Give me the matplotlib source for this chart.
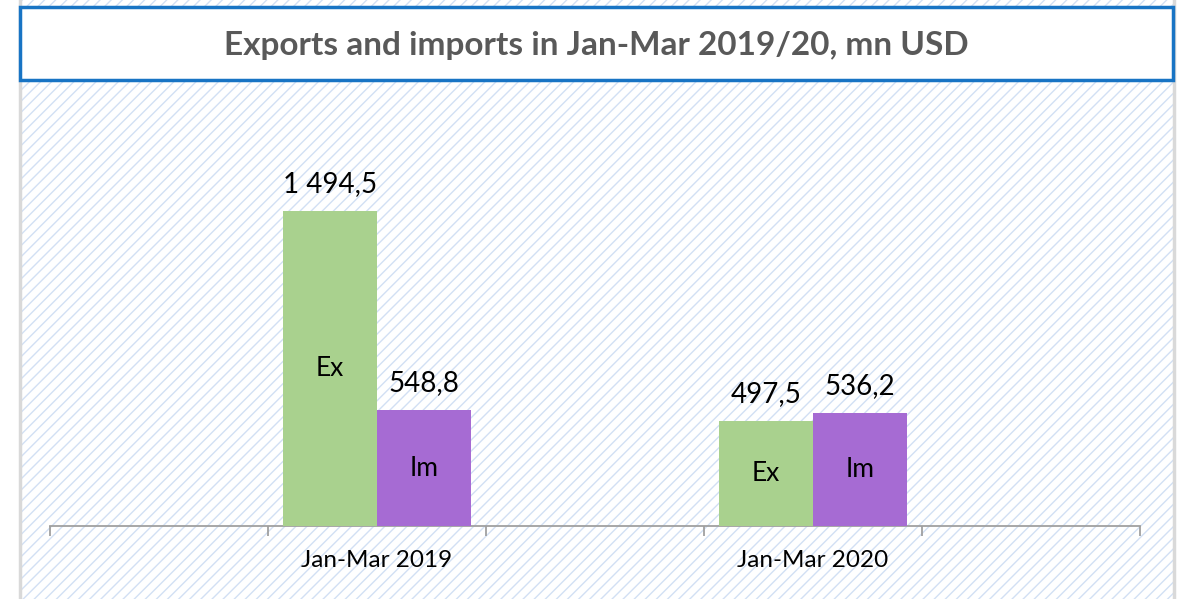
import matplotlib
matplotlib.use("Agg")
import matplotlib.pyplot as plt
from matplotlib.patches import Rectangle

categories = ["", "Jan-Mar 2019", "", "Jan-Mar 2020", ""]
exports = [None, 1494.5, None, 497.5, None]
imports = [None, 548.8, None, 536.2, None]
series_names = ["Ex", "Im"]
title = "Exports and imports in Jan-Mar 2019/20, mn USD"

W, H = 1186, 599
DPI = 100
plt.rcParams['font.family'] = ['Lato', 'DejaVu Sans']
plt.rcParams['hatch.linewidth'] = 1.0
plt.rcParams['hatch.color'] = '#d2e0f4'

fig = plt.figure(figsize=(W / DPI, H / DPI), dpi=DPI)
fig.patch.set_facecolor('white')

def fx(px):
    return px / W

def fy(py):
    return 1 - py / H

# hatched background
bg = Rectangle((fx(20), 0), fx(1173) - fx(20), 1, transform=fig.transFigure,
               facecolor='white', edgecolor='#d2e0f4', hatch='///', linewidth=0, zorder=0)
fig.add_artist(bg)
for xx in (19.5, 1174):
    fig.add_artist(plt.Line2D([fx(xx), fx(xx)], [0, 1], transform=fig.transFigure,
                              color='#d9d9d9', linewidth=2.5, zorder=1))

# title box
tb = Rectangle((fx(20), fy(80)), fx(1173) - fx(20), fy(7) - fy(80), transform=fig.transFigure,
               facecolor='white', edgecolor='#1874c4', linewidth=2.5, zorder=2)
fig.add_artist(tb)
fig.text(fx(596), fy(45), title, ha='center', va='center', fontsize=24,
         fontweight='bold', color='#595959', zorder=3)

# axes
ax = fig.add_axes([fx(50), fy(526), fx(1140) - fx(50), fy(90) - fy(526)])
ax.set_facecolor('none')
ax.set_xlim(-0.5, len(categories) - 0.5)
ax.set_ylim(0, 2068)

bw = 0.431
xs_ex = [i - bw / 2 for i, v in enumerate(exports) if v is not None]
vs_ex = [v for v in exports if v is not None]
xs_im = [i + bw / 2 for i, v in enumerate(imports) if v is not None]
vs_im = [v for v in imports if v is not None]

b1 = ax.bar(xs_ex, vs_ex, width=bw, color='#a9d18e', zorder=3)
b2 = ax.bar(xs_im, vs_im, width=bw, color='#a66bd3', zorder=3)

def fmt(v):
    s = f"{v:,.1f}"
    return s.replace(",", " ").replace(".", ",")

for bars, vals, name in ((b1, vs_ex, series_names[0]), (b2, vs_im, series_names[1])):
    for rect, v in zip(bars, vals):
        cx = rect.get_x() + rect.get_width() / 2
        ax.annotate(fmt(v), (cx, v), xytext=(0, 10), textcoords='offset points',
                    ha='center', va='bottom', fontsize=20, color='black')
        ax.text(cx, v / 2, name, ha='center', va='center', fontsize=19, color='black')

for s in ('top', 'right', 'left'):
    ax.spines[s].set_visible(False)
ax.spines['bottom'].set_color('#a0a0a0')
ax.spines['bottom'].set_linewidth(1.3)
ax.set_yticks([])
ax.set_xticks(range(len(categories)))
ax.set_xticklabels(categories, fontsize=17.5, color='black')
ax.tick_params(axis='x', which='major', length=0, pad=17)
ax.set_xticks([i - 0.5 for i in range(len(categories) + 1)], minor=True)
ax.tick_params(axis='x', which='minor', length=7, width=1.3, color='#a0a0a0', direction='out')

fig.savefig('out.png', dpi=DPI)
